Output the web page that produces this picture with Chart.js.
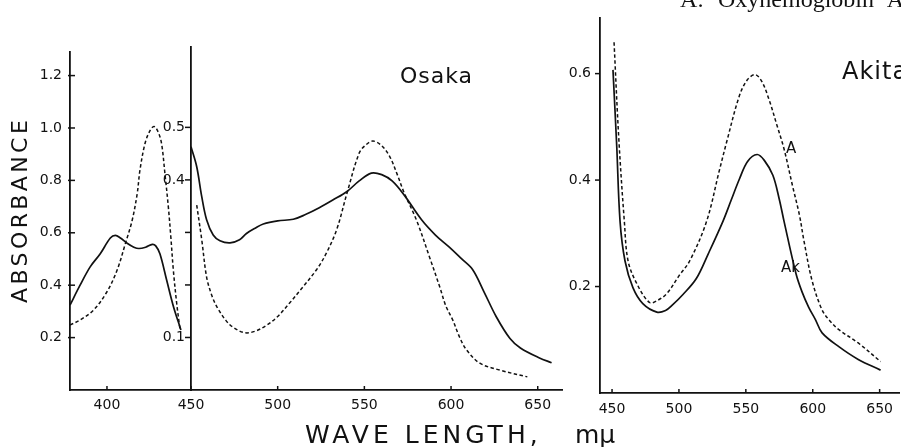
<!DOCTYPE html>
<html><head><meta charset="utf-8">
<script src="https://cdn.jsdelivr.net/npm/chart.js@4.4.1/dist/chart.umd.min.js"></script>
<style>
html,body{margin:0;padding:0;background:#fff;}
#wrap{position:relative;width:901px;height:447px;overflow:hidden;background:#fff;}
canvas{position:absolute;left:0;top:0;}
.t{position:absolute;white-space:nowrap;color:#111;font-family:"DejaVu Sans",sans-serif;line-height:1;}
</style></head><body>
<div id="wrap">
<canvas id="c1" width="901" height="447"></canvas>
<canvas id="c2" width="901" height="447"></canvas>
<canvas id="c3" width="901" height="447"></canvas>
<div class="t" style="left:680px;top:-13px;font-family:'Liberation Serif',serif;font-size:24px;word-spacing:8px;">A: Oxyhemoglobin A</div>
<div class="t" style="left:400px;top:65px;font-size:22px;letter-spacing:1px;">Osaka</div>
<div class="t" style="left:842px;top:59px;font-size:24px;letter-spacing:1px;">Akita</div>
<div class="t" style="left:786px;top:141px;font-size:15px;">A</div>
<div class="t" style="left:781px;top:260px;font-size:15px;">Ak</div>
<div class="t" style="left:9px;top:303px;font-size:22px;letter-spacing:3.4px;transform:rotate(-90deg);transform-origin:left top;">ABSORBANCE</div>
<div class="t" style="left:305px;top:422px;font-size:25px;letter-spacing:4px;">WAVE LENGTH,</div>
<div class="t" style="left:575px;top:422px;font-size:25px;">mμ</div>
</div>
<script>
// ---- Panel 1: Osaka, Soret region ----
const osakaSoretSolidWl  = [378,384,390,396,402,405,408,412,416,419,423,427,429,431.5,435.5,439.5,444];
const osakaSoretSolidAbs = [0.324,0.40,0.47,0.52,0.58,0.59,0.58,0.56,0.545,0.54,0.545,0.556,0.55,0.52,0.42,0.32,0.229];
const osakaSoretDashWl   = [378,384,392,400,406,411,415,418,419.6,422.6,425.6,428,430.5,432.5,434.5,436.5,438,439.5,441.5,443.5];
const osakaSoretDashAbs  = [0.248,0.267,0.305,0.375,0.457,0.56,0.648,0.75,0.838,0.94,0.99,1.006,0.984,0.94,0.825,0.70,0.584,0.457,0.33,0.229];
const p1XTicks = [400,450];
const p1YTicks = [0.2,0.4,0.6,0.8,1.0,1.2];

// ---- Panel 2: Osaka, visible region ----
const osakaVisSolidWl  = [450,453.3,456.2,459,462.8,466.7,472.5,478,482,487,491.7,500,509,516,524,532,540,547,554,560,566,573,583,591,599,606,612.5,619,626,634,640,651,658];
const osakaVisSolidAbs = [0.463,0.425,0.368,0.324,0.295,0.284,0.28,0.286,0.298,0.308,0.316,0.322,0.325,0.334,0.347,0.362,0.378,0.398,0.413,0.41,0.398,0.371,0.324,0.295,0.272,0.25,0.229,0.187,0.14,0.098,0.08,0.061,0.052];
const osakaVisDashWl   = [453.3,456.2,459,462,465,470,474,481,487,494,500,507,513,522.4,528,534,540,547,551,555,560,564.7,569,573,580,587.8,593.5,597,601,605,609,616.6,628,644];
const osakaVisDashAbs  = [0.352,0.286,0.215,0.18,0.158,0.133,0.12,0.109,0.112,0.124,0.14,0.166,0.19,0.229,0.26,0.305,0.375,0.451,0.467,0.474,0.465,0.444,0.41,0.375,0.324,0.251,0.196,0.16,0.133,0.1,0.076,0.051,0.038,0.025];
const p2XTicks = [500,550,600,650];
const p2YTicks = [0.1,0.2,0.3,0.4,0.5];
const p2YLabeled = [0.1,0.4,0.5];

// ---- Panel 3: Akita (Ak) vs A ----
const akitaAkWl  = [450.7,453.5,456,459.7,465.6,473,483.5,490,495,503,513,522,532.8,539,545.2,551.3,558.4,563.8,570.2,574.9,578.6,587.5,592,597,602,607,619.5,634,650.7];
const akitaAkAbs = [0.607,0.464,0.322,0.248,0.198,0.168,0.152,0.155,0.165,0.185,0.215,0.262,0.322,0.362,0.402,0.435,0.448,0.437,0.409,0.365,0.322,0.224,0.19,0.161,0.138,0.113,0.087,0.063,0.043];
const akitaAWl   = [451.5,455,459.2,462,468.6,478,484,491,500,508,520.6,530,535.5,545,551,557,562,567.5,573,578.6,585,590,593.5,599.5,607,613,619.5,634,650.7];
const akitaAAbs  = [0.659,0.48,0.322,0.248,0.205,0.17,0.174,0.187,0.22,0.248,0.322,0.416,0.47,0.557,0.588,0.598,0.585,0.55,0.505,0.458,0.388,0.335,0.285,0.211,0.156,0.135,0.119,0.094,0.059];
const p3XTicks = [450,500,550,600,650];
const p3YTicks = [0.2,0.4,0.6];

const INK = '#111';
const FONT = {family:'"DejaVu Sans", sans-serif', size:14};
const W = 901, H = 447;

function pts(xs, ys){ return xs.map((x,i)=>({x:x, y:ys[i]})); }
function solid(xs, ys){ return {data:pts(xs,ys), borderColor:INK, borderWidth:1.7, pointRadius:0, tension:0.35, fill:false}; }
function dashed(xs, ys){ return {data:pts(xs,ys), borderColor:INK, borderWidth:1.5, borderDash:[3.5,2.5], pointRadius:0, tension:0.35, fill:false}; }

const tickMarks = {
  id:'tickMarks',
  afterDraw(chart, args, opts){
    const ctx = chart.ctx;
    ctx.save(); ctx.strokeStyle = INK; ctx.lineWidth = 1.5;
    (opts.axes||[]).forEach(a=>{
      const s = chart.scales[a.id];
      s.ticks.forEach(t=>{
        const p = s.getPixelForValue(t.value);
        ctx.beginPath();
        if (s.isHorizontal()) { ctx.moveTo(p, s.top + a.out); ctx.lineTo(p, s.top - a.inn); }
        else { ctx.moveTo(s.right - a.out, p); ctx.lineTo(s.right + a.inn, p); }
        ctx.stroke();
      });
    });
    ctx.restore();
  }
};

function makeChart(id, area, xr, yr, xTicks, yTicks, yLabel, datasets, tickCfg, xPad, yPad){
  const yw = 60, xh = 30;
  const cfg = {
    type:'line',
    data:{datasets:datasets},
    options:{
      responsive:false, animation:false, devicePixelRatio:1,
      layout:{padding:{left:area.L - yw, top:area.T, right:W - area.R, bottom:H - area.B - xh}},
      plugins:{legend:{display:false}, tooltip:{enabled:false}, tickMarks:tickCfg},
      scales:{
        x:{type:'linear', min:xr[0], max:xr[1],
           afterBuildTicks:s=>{ s.ticks = xTicks.map(v=>({value:v})); },
           afterFit:s=>{ s.height = xh; },
           grid:{display:false, drawTicks:false},
           border:{display:true, color:INK, width:1.8},
           ticks:{color:INK, font:FONT, padding:xPad, maxRotation:0, autoSkip:false, callback:v=>String(v)}},
        y:{type:'linear', min:yr[0], max:yr[1],
           afterBuildTicks:s=>{ s.ticks = yTicks.map(v=>({value:v})); },
           afterFit:s=>{ s.width = yw; },
           grid:{display:false, drawTicks:false},
           border:{display:true, color:INK, width:1.8},
           ticks:{color:INK, font:FONT, padding:yPad, autoSkip:false, callback:yLabel}}
      }
    },
    plugins:[tickMarks]
  };
  return new Chart(document.getElementById(id), cfg);
}

makeChart('c1', {L:70, R:191, T:52, B:390}, [378,450], [0,1.29], p1XTicks, p1YTicks,
  v=>v.toFixed(1),
  [solid(osakaSoretSolidWl, osakaSoretSolidAbs), dashed(osakaSoretDashWl, osakaSoretDashAbs)],
  {axes:[{id:'x', out:0, inn:4},{id:'y', out:2, inn:5}]}, 7, 8);

makeChart('c2', {L:191, R:562, T:47, B:390}, [450,664], [0,0.653], p2XTicks, p2YTicks,
  v=>p2YLabeled.includes(v) ? v.toFixed(1) : '',
  [solid(osakaVisSolidWl, osakaVisSolidAbs), dashed(osakaVisDashWl, osakaVisDashAbs)],
  {axes:[{id:'x', out:0, inn:4},{id:'y', out:6, inn:0}]}, 7, 6);

makeChart('c3', {L:600, R:901, T:12, B:393}, [441,665], [0,0.7056], p3XTicks, p3YTicks,
  v=>v.toFixed(1),
  [solid(akitaAkWl, akitaAkAbs), dashed(akitaAWl, akitaAAbs)],
  {axes:[{id:'x', out:0, inn:4},{id:'y', out:5, inn:0}]}, 8, 9);
</script>
</body></html>
